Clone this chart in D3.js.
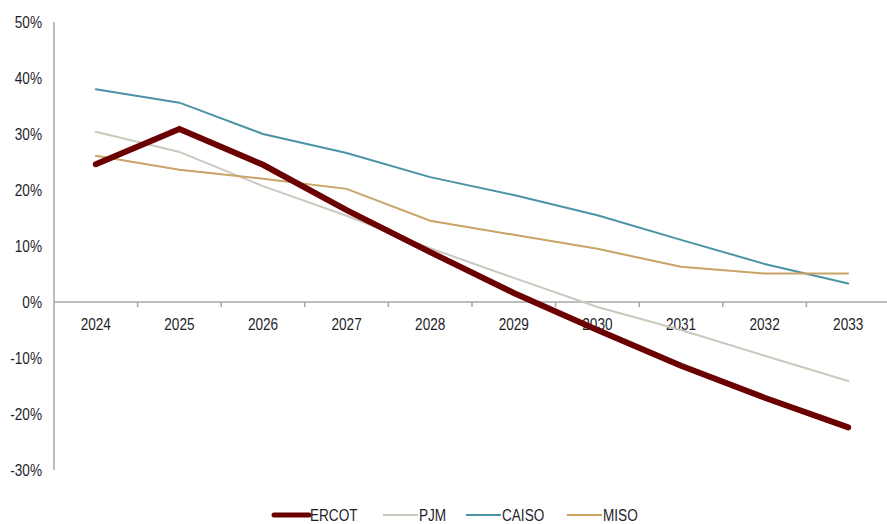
<!DOCTYPE html>
<html>
<head>
<meta charset="utf-8">
<script src="https://cdn.jsdelivr.net/npm/d3@7"></script>
<style>
  body { margin: 0; background: #fff; }
  text { font-family: "Liberation Sans", Arial, sans-serif; fill: #1e1e2a; }
</style>
</head>
<body>
<div id="chart"></div>
<script>
// Year-over-year values (%)
const years = ['2024', '2025', '2026', '2027', '2028', '2029', '2030', '2031', '2032', '2033'];
const ercot = [24.6, 30.9, 24.5, 16.4, 8.9, 1.6, -5.0, -11.4, -17.1, -22.4];
const pjm   = [30.4, 26.8, 20.7, 15.4, 9.6, 4.3, -0.9, -5.0, -9.6, -14.1];
const caiso = [38.0, 35.6, 30.0, 26.6, 22.3, 19.1, 15.5, 11.1, 6.8, 3.3];
const miso  = [26.1, 23.6, 22.0, 20.2, 14.5, 12.0, 9.5, 6.3, 5.1, 5.1];
const yTicks = [50, 40, 30, 20, 10, 0, -10, -20, -30];

const series = [
  { name: 'ERCOT', values: ercot, color: '#6b0000', width: 6 },
  { name: 'PJM',   values: pjm,   color: '#c9c9bd', width: 2 },
  { name: 'CAISO', values: caiso, color: '#4b93a6', width: 2 },
  { name: 'MISO',  values: miso,  color: '#c9a466', width: 2 }
];

const width = 887, height = 524;
const squeeze = 0.8; // condensed look of the original font
const fontSize = '17px';

const svg = d3.select('#chart').append('svg')
  .attr('width', width)
  .attr('height', height);

const x = d3.scaleBand().domain(years).range([54, 890]);
const y = d3.scaleLinear().domain([-30, 50]).range([470, 22]);

// y axis line
svg.append('line')
  .attr('x1', 54).attr('x2', 54)
  .attr('y1', y(50)).attr('y2', y(-30))
  .attr('stroke', '#a6a6a6').attr('stroke-width', 1.5);

svg.append('g')
  .selectAll('text')
  .data(yTicks)
  .enter().append('text')
  .attr('transform', d => `translate(42,${y(d)}) scale(${squeeze},1)`)
  .attr('dy', '0.36em')
  .attr('text-anchor', 'end')
  .attr('font-size', fontSize)
  .text(d => d + '%');

// x axis at zero
const xAxis = svg.append('g').attr('transform', `translate(0,${y(0)})`);
xAxis.append('line')
  .attr('x1', 54).attr('x2', width)
  .attr('stroke', '#a6a6a6').attr('stroke-width', 1.5);
xAxis.selectAll('.tick')
  .data(years.slice(1))
  .enter().append('line')
  .attr('x1', d => x(d)).attr('x2', d => x(d))
  .attr('y1', 0).attr('y2', 5)
  .attr('stroke', '#a6a6a6').attr('stroke-width', 1.5);
xAxis.selectAll('text')
  .data(years)
  .enter().append('text')
  .attr('transform', d => `translate(${x(d) + x.bandwidth() / 2},22) scale(${squeeze},1)`)
  .attr('dy', '0.36em')
  .attr('text-anchor', 'middle')
  .attr('font-size', fontSize)
  .text(d => d);

const line = d3.line()
  .x((d, i) => x(years[i]) + x.bandwidth() / 2)
  .y(d => y(d));

// draw thin lines first, ERCOT on top
const drawOrder = [series[1], series[2], series[3], series[0]];
svg.append('g')
  .selectAll('path')
  .data(drawOrder)
  .enter().append('path')
  .attr('d', d => line(d.values))
  .attr('fill', 'none')
  .attr('stroke', d => d.color)
  .attr('stroke-width', d => d.width)
  .attr('stroke-linecap', 'round')
  .attr('stroke-linejoin', 'miter');

// legend
const legendX = [272, 381, 464, 565];
const legend = svg.append('g')
  .selectAll('g')
  .data(series)
  .enter().append('g')
  .attr('transform', (d, i) => `translate(${legendX[i]},515)`);
legend.append('line')
  .attr('x1', 2).attr('x2', 37)
  .attr('stroke', d => d.color)
  .attr('stroke-width', d => d.width === 6 ? 5 : 2)
  .attr('stroke-linecap', d => d.width === 6 ? 'round' : 'butt');
legend.append('text')
  .attr('transform', `translate(38,0) scale(${squeeze},1)`)
  .attr('dy', '0.36em')
  .attr('font-size', fontSize)
  .text(d => d.name);
</script>
</body>
</html>
